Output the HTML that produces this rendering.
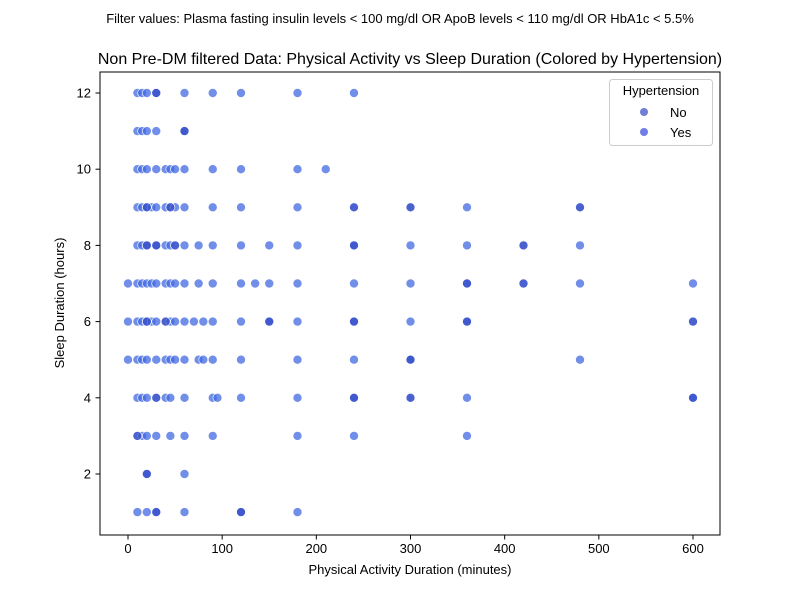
<!DOCTYPE html>
<html><head><meta charset="utf-8"><style>body{margin:0;background:#fff}svg{font-family:"Liberation Sans","DejaVu Sans",sans-serif}</style></head>
<body>
<svg id="c" width="800" height="600" xmlns="http://www.w3.org/2000/svg">
<rect width="800" height="600" fill="#fff"/>
<text x="400" y="23" text-anchor="middle" font-size="13">Filter values: Plasma fasting insulin levels &lt; 100 mg/dl OR ApoB levels &lt; 110 mg/dl OR HbA1c &lt; 5.5%</text>
<text x="410" y="64" text-anchor="middle" font-size="16">Non Pre-DM filtered Data: Physical Activity vs Sleep Duration (Colored by Hypertension)</text>
<g id="marks"></g>
<rect x="100" y="72" width="620" height="463" fill="none" stroke="#000" stroke-width="1"/>
<g id="axes" font-size="13"></g>
<text x="410" y="574" text-anchor="middle" font-size="13">Physical Activity Duration (minutes)</text>
<text transform="translate(64,303) rotate(-90)" text-anchor="middle" font-size="13">Sleep Duration (hours)</text>
<g>
<rect x="609.5" y="79.5" width="103" height="66" rx="3" fill="#fff" fill-opacity="0.8" stroke="#ccc"/>
<text x="661" y="95" text-anchor="middle" font-size="13">Hypertension</text>
<circle cx="644" cy="112" r="4" fill="#6f7fd8"/>
<text x="670" y="117" font-size="13">No</text>
<circle cx="644" cy="132" r="4" fill="#6f7fe6"/>
<text x="670" y="137" font-size="13">Yes</text>
</g>
</svg>
<script>
const sleepLevels = [12,11,10,9,8,7,6,5,4,3,2,1];
const activityByLevel = [
 [10,15,20,30,30,60,90,120,180,240],
 [10,15,20,30,60,60],
 [10,15,20,30,40,45,50,60,90,120,180,210],
 [10,15,20,20,25,30,40,45,45,50,60,90,120,180,240,300,360,480],
 [10,15,20,20,30,30,40,45,50,60,75,90,120,150,180,240,240,300,360,420,480],
 [0,10,15,20,25,30,40,45,50,60,75,90,120,135,150,180,240,300,360,360,420,480,600],
 [0,10,15,20,20,25,30,40,45,50,60,70,80,90,120,150,150,180,240,240,300,360,360,600],
 [0,10,15,20,30,40,45,50,60,75,80,90,120,180,240,300,300,480],
 [10,15,20,30,40,45,60,90,95,120,180,240,240,300,360,600,600],
 [10,15,20,30,45,60,90,180,240,360],
 [20,20,60],
 [10,20,30,30,60,120,120,180]
];
const noActivity = [30,60,20,45,240,300,480,20,30,50,240,420,360,420,20,40,150,240,360,600,300,240,300,600,20,30,120,10,30];
const noSleep    = [12,11,9,9,9,9,9,8,8,8,8,8,7,7,6,6,6,6,6,6,5,4,4,4,2,1,1,3,4];
const xTicks = [0,100,200,300,400,500,600];
const yTicks = [2,4,6,8,10,12];
const xs = v => 128 + v * (565/600);
const ys = v => 93 + (12 - v) * 38.1;
const NS = "http://www.w3.org/2000/svg";
const marks = document.getElementById('marks');
function dot(a, s, fill, op) {
  const c = document.createElementNS(NS, 'circle');
  c.setAttribute('cx', xs(a)); c.setAttribute('cy', ys(s)); c.setAttribute('r', 4.5);
  c.setAttribute('fill', fill); c.setAttribute('fill-opacity', op);
  c.setAttribute('stroke', '#fff'); c.setAttribute('stroke-width', '0.6');
  marks.appendChild(c);
  return c;
}
sleepLevels.forEach((s, i) => {
  activityByLevel[i].forEach(a => {
    const c = dot(a, s, '#4169e1', '0.75');
    
    
  });
});
noActivity.forEach((a, i) => {
  const c = dot(a, noSleep[i], '#3a4fc4', '0.7');
  
  
});
const axes = document.getElementById('axes');
xTicks.forEach(t => {
  const l = document.createElementNS(NS, 'line');
  l.setAttribute('x1', xs(t)); l.setAttribute('x2', xs(t)); l.setAttribute('y1', 535); l.setAttribute('y2', 539.5); l.setAttribute('stroke', '#000');
  
  
  axes.appendChild(l);
  const tx = document.createElementNS(NS, 'text');
  tx.setAttribute('x', xs(t)); tx.setAttribute('y', 553); tx.setAttribute('text-anchor', 'middle'); tx.textContent = t;
  
  
  axes.appendChild(tx);
});
yTicks.forEach(t => {
  const l = document.createElementNS(NS, 'line');
  l.setAttribute('x1', 95.5); l.setAttribute('x2', 100); l.setAttribute('y1', ys(t)); l.setAttribute('y2', ys(t)); l.setAttribute('stroke', '#000');
  
  
  axes.appendChild(l);
  const tx = document.createElementNS(NS, 'text');
  tx.setAttribute('x', 91); tx.setAttribute('y', ys(t) + 4.5); tx.setAttribute('text-anchor', 'end'); tx.textContent = t;
  
  
  axes.appendChild(tx);
});
</script>
</body></html>
